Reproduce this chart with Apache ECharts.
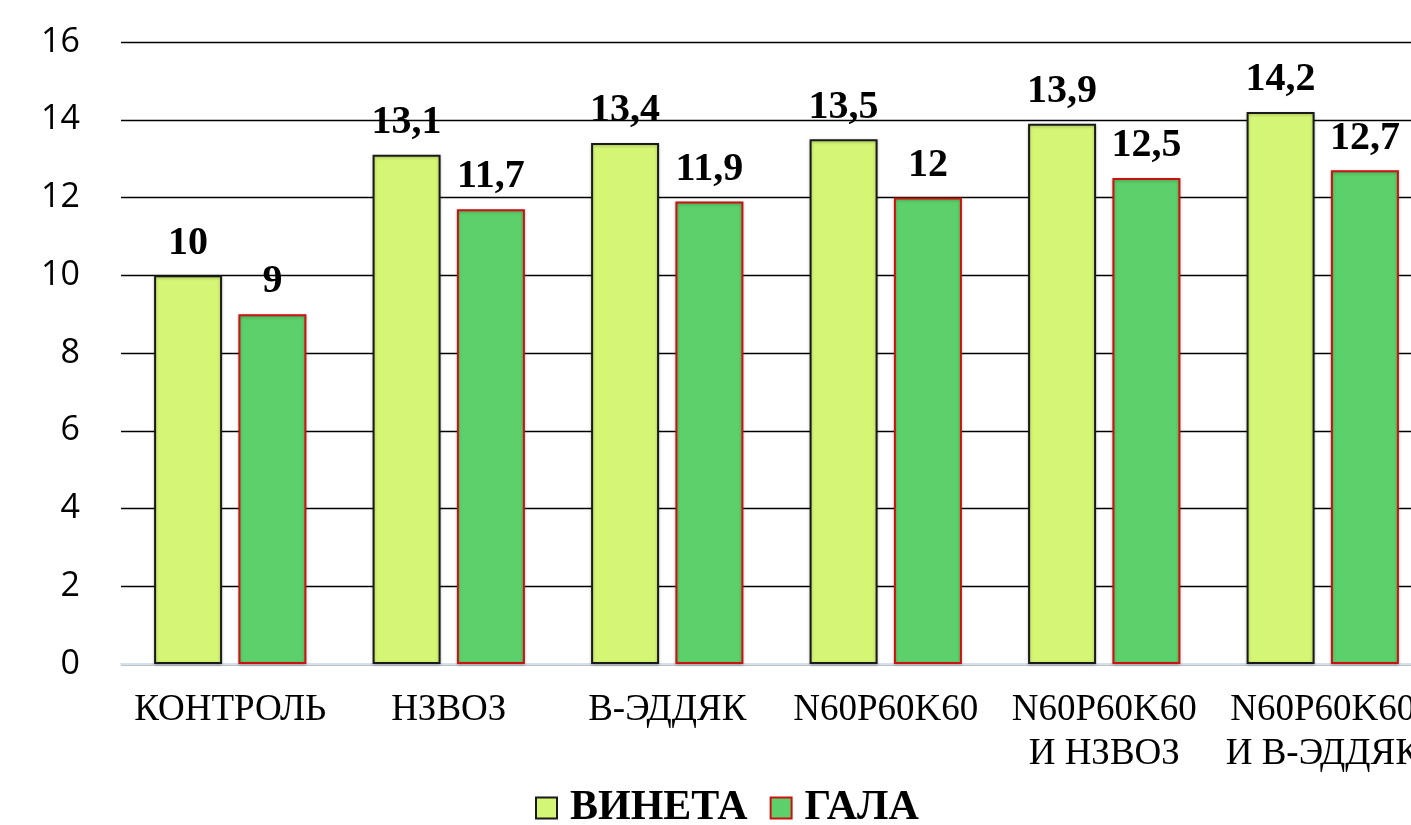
<!DOCTYPE html>
<html>
<head>
<meta charset="utf-8">
<script src="https://cdn.jsdelivr.net/npm/echarts@6/dist/echarts.min.js"></script>
<style>
html,body{margin:0;padding:0;background:#fff;}
#c{width:1411px;height:825px;}
</style>
</head>
<body>
<div id="c"></div>
<script>
const categories = ['КОНТРОЛЬ', 'НЗВОЗ', 'В-ЭДДЯК', 'N60P60K60', 'N60P60K60\nИ НЗВОЗ', 'N60P60K60\nИ В-ЭДДЯК'];
const vineta = [10, 13.1, 13.4, 13.5, 13.9, 14.2];
const gala = [9, 11.7, 11.9, 12, 12.5, 12.7];
const seriesNames = ['ВИНЕТА', 'ГАЛА'];

const chart = echarts.init(document.getElementById('c'));
const fmt = p => String(p.value).replace('.', ',');
const labelStyle = {
  show: true, position: 'top', distance: 12, formatter: fmt,
  fontFamily: 'Liberation Serif', fontWeight: 'bold', fontSize: 40, color: '#000'
};
chart.setOption({
  animation: false,
  grid: {left: 121, top: 42, height: 622, width: 1311, outerBoundsMode: 'none', containLabel: false},
  legend: {
    top: 782, left: 530, itemWidth: 21, itemHeight: 21, itemGap: 22,
    icon: 'rect',
    textStyle: {fontFamily: 'Liberation Serif', fontWeight: 'bold', fontSize: 42, color: '#000', padding: [0, 0, 0, 8]},
    data: seriesNames
  },
  xAxis: {
    type: 'category', data: categories,
    axisLine: {lineStyle: {color: '#d6e0ef', width: 2}},
    axisTick: {show: false},
    axisLabel: {fontFamily: 'Liberation Serif', fontSize: 37, color: '#000', margin: 24, lineHeight: 44, interval: 0}
  },
  yAxis: {
    type: 'value', min: 0, max: 16, interval: 2,
    axisLine: {show: false}, axisTick: {show: false},
    splitLine: {lineStyle: {color: '#000', width: 1.3}},
    axisLabel: {fontFamily: 'Open Sans', fontSize: 34, color: '#000', margin: 41}
  },
  series: [
    {
      name: seriesNames[0], type: 'bar', data: vineta, barWidth: 68, barGap: '24%',
      itemStyle: {color: '#d5f574', borderColor: '#1a1a1a', borderWidth: 2,
        shadowColor: 'rgba(0,0,0,0.25)', shadowBlur: 3, shadowOffsetY: 1},
      label: labelStyle
    },
    {
      name: seriesNames[1], type: 'bar', data: gala, barWidth: 68,
      itemStyle: {color: '#5bd06b', borderColor: '#cc1111', borderWidth: 2,
        shadowColor: 'rgba(0,0,0,0.25)', shadowBlur: 3, shadowOffsetY: 1},
      label: labelStyle
    }
  ]
});
</script>
</body>
</html>
